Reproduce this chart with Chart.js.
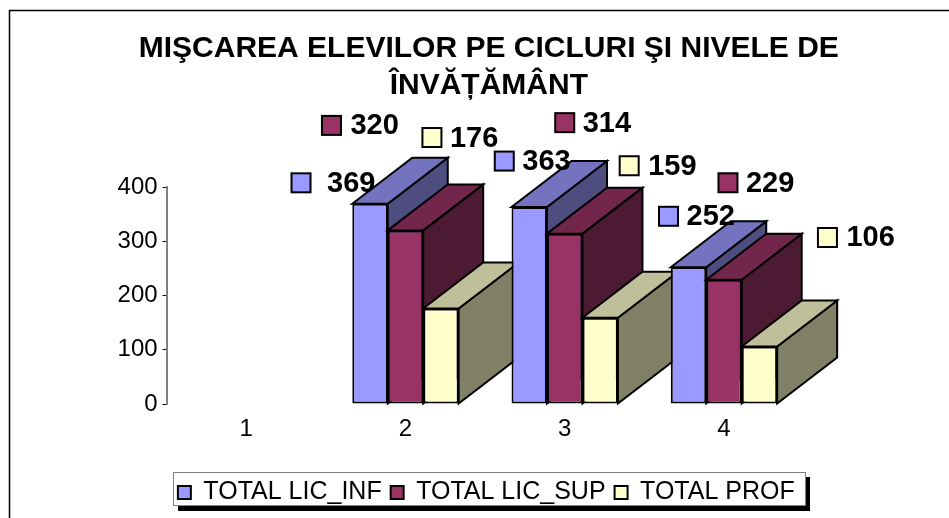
<!DOCTYPE html>
<html><head><meta charset="utf-8">
<style>html,body{margin:0;padding:0;background:#fff}#w{width:949px;height:518px;position:relative}</style>
<script src="https://cdn.jsdelivr.net/npm/chart.js@4"></script>
</head><body><div id="w"><canvas id="c" width="949" height="518"></canvas></div>
<script>
const titleLines = ['MIŞCAREA ELEVILOR PE CICLURI ŞI NIVELE DE', 'ÎNVĂȚĂMÂNT'];
const categories = ['1', '2', '3', '4'];
const seriesNames = ['TOTAL LIC_INF', 'TOTAL LIC_SUP', 'TOTAL PROF'];
const licInf = [null, 369, 363, 252];
const licSup = [null, 320, 314, 229];
const prof = [null, 176, 159, 106];
const yTicks = [0, 100, 200, 300, 400];

const fronts = ['#9999FF', '#993366', '#FFFFCC'];
const tops = ['#7373BF', '#73264C', '#BFBF99'];
const sides = ['#4D4D80', '#4D1A33', '#808066'];
const DEPTH = {dx: 60, dy: 46};
// Hand-placed label offsets from each bar's top centre: [key centre dx, key centre dy]
const labelOffsets = [
  [null, [-69, -21], [-25, -46], [-20, -51]],
  [null, [-74, -105], [0, -111], [4, -97]],
  [null, [-9, -171], [29, -152], [68, -109]]
];
const labelGap = [[0, 16, 8, 8], [0, 9, 8, 8], [0, 8, 9, 9]];

const depthBars = {
  id: 'depthBars',
  beforeDatasetDraw() { return false; },
  beforeDraw(chart) {
    const c = chart.ctx;
    c.save();
    c.strokeStyle = '#000'; c.lineWidth = 1.5;
    c.beginPath(); c.moveTo(9.5, 518); c.lineTo(9.5, 10.5); c.lineTo(949, 10.5); c.stroke();
    c.fillStyle = '#000'; c.fillRect(178, 477, 632, 34);
    c.fillStyle = '#fff'; c.fillRect(173.5, 472.5, 632, 33);
    c.strokeStyle = '#808080'; c.lineWidth = 1; c.strokeRect(173.5, 472.5, 632, 33);
    c.restore();
  },
  afterLayout(chart) {
    const t = chart.titleBlock; t.left += 87; t.right += 87;
    const l = chart.legend; const dx = 84.5; l.left += dx; l.right += dx;
    l.top = 471;
  },
  afterDatasetsDraw(chart) {
    const c = chart.ctx;
    categories.forEach((_, i) => {
      chart.data.datasets.forEach((d, s) => {
        const bar = chart.getDatasetMeta(s).data[i];
        if (d.data[i] === null) return;
        const L = bar.x - bar.width / 2, R = bar.x + bar.width / 2, T = bar.y, B = bar.base;
        c.save();
        c.lineWidth = 2; c.strokeStyle = '#000'; c.lineJoin = 'miter';
        c.fillStyle = sides[s];
        c.beginPath(); c.moveTo(R, T); c.lineTo(R + DEPTH.dx, T - DEPTH.dy); c.lineTo(R + DEPTH.dx, B - DEPTH.dy); c.lineTo(R, B); c.closePath(); c.fill(); c.stroke();
        c.fillStyle = tops[s];
        c.beginPath(); c.moveTo(L, T); c.lineTo(L + DEPTH.dx, T - DEPTH.dy); c.lineTo(R + DEPTH.dx, T - DEPTH.dy); c.lineTo(R, T); c.closePath(); c.fill(); c.stroke();
        c.restore();
        bar.draw(c);
      });
    });
    chart.data.datasets.forEach((d, s) => {
      d.data.forEach((v, i) => {
        if (v === null) return;
        const bar = chart.getDatasetMeta(s).data[i];
        const [ox, oy] = labelOffsets[s][i];
        const kx = bar.x + ox, ky = bar.y + oy;
        c.save();
        c.fillStyle = fronts[s]; c.strokeStyle = '#000'; c.lineWidth = 2;
        c.fillRect(kx - 9.5, ky - 9.5, 19, 19); c.strokeRect(kx - 9.5, ky - 9.5, 19, 19);
        c.fillStyle = '#000'; c.font = 'bold 29px "Liberation Sans"';
        c.textAlign = 'left'; c.textBaseline = 'middle';
        c.fillText(String(v), kx + 10 + labelGap[s][i], ky + 1);
        c.restore();
      });
    });
  }
};

new Chart(document.getElementById('c'), {
  type: 'bar',
  plugins: [depthBars],
  data: {
    labels: categories,
    datasets: [licInf, licSup, prof].map((vals, s) => ({
      label: seriesNames[s], data: vals,
      backgroundColor: fronts[s], borderColor: '#000', borderWidth: 2, borderSkipped: false,
      barPercentage: 1, categoryPercentage: 0.668
    }))
  },
  options: {
    responsive: false, animation: false,
    layout: {padding: {left: 0, right: 145.4, top: 0, bottom: 0}},
    plugins: {
      tooltip: {enabled: false},
      title: {
        display: true, text: titleLines, color: '#000',
        font: {family: '"Liberation Sans"', size: 30, weight: 'bold', lineHeight: 37 / 30},
        padding: {top: 30, bottom: 83}
      },
      legend: {
        display: true, position: 'bottom',
        labels: {
          color: '#000', boxWidth: 13, boxHeight: 13, padding: 9,
          font: {family: '"Liberation Sans"', size: 25}
        }
      }
    },
    scales: {
      x: {
        grid: {display: false}, border: {display: false},
        ticks: {color: '#000', padding: 3, maxRotation: 0, font: {family: '"Liberation Sans"', size: 24}},
        afterFit(s) { s.height = 114 - (s.chart.legend ? s.chart.legend.height : 0); }
      },
      y: {
        min: 0, max: 400,
        afterBuildTicks(s) { s.ticks = yTicks.map(v => ({value: v})); },
        grid: {display: true, drawOnChartArea: false, drawTicks: true, tickLength: 4, color: '#000', lineWidth: 1},
        border: {display: true, color: '#808080', width: 2},
        ticks: {color: '#000', padding: 5, font: {family: '"Liberation Sans"', size: 24}},
        afterFit(s) { s.width = 166.6; }
      }
    }
  }
});
</script></body></html>
